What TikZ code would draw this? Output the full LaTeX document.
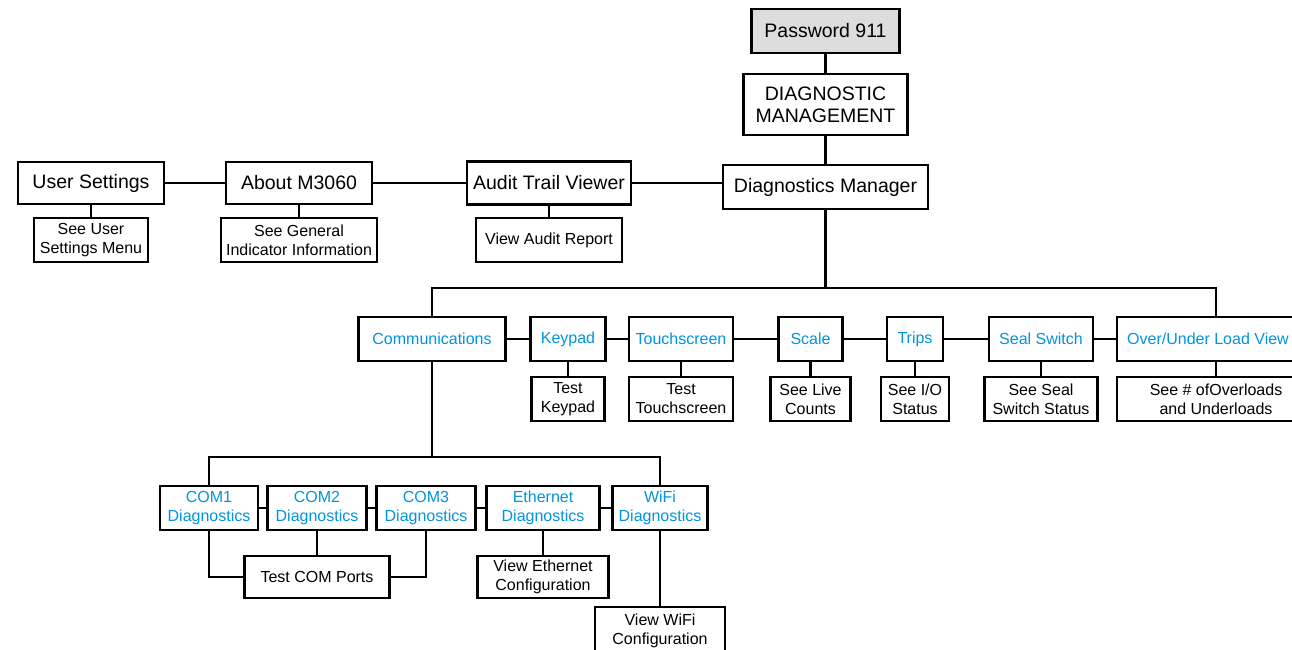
\documentclass[tikz,border=0pt]{standalone}
\usepackage{fontspec}
\setmainfont{Liberation Sans}
\definecolor{linkblue}{RGB}{0,148,222}
\definecolor{pwgray}{RGB}{221,221,221}
\begin{document}
\begin{tikzpicture}[x=1pt,y=-1pt,
  box/.style={draw, line width=2.4pt, inner sep=0pt, align=center, minimum height=44pt},
  big/.style={box, font=\fontsize{19.5}{22}\selectfont},
  med/.style={box, font=\fontsize{16}{19}\selectfont},
  blu/.style={med, text=linkblue},
  wire/.style={line width=2.4pt}]
\useasboundingbox (0,0) rectangle (1292,650);
% top
\node[big, fill=pwgray, minimum width=148pt] (pw) at (825.5,31) {Password 911};
\node[big, minimum width=164pt, minimum height=61pt] (dm) at (825.5,104.5) {DIAGNOSTIC\\MANAGEMENT};
\node[big, minimum width=205pt] (mgr) at (825.5,187) {Diagnostics Manager};
\node[big, minimum width=146pt, minimum height=42pt] (us) at (91,183) {User Settings};
\node[med, minimum width=114pt] (usm) at (91,240) {See User\\Settings Menu};
\node[big, minimum width=146pt, minimum height=42pt] (about) at (299,183) {About M3060};
\node[med, minimum width=156pt] (gen) at (299,240) {See General\\Indicator Information};
\node[big, minimum width=164pt, minimum height=43pt] (audit) at (549,183) {Audit Trail Viewer};
\node[med, minimum width=146pt] (audr) at (549,240) {View Audit Report};
% row 2
\node[blu, minimum width=147pt] (comm) at (432,339) {Communications};
\node[blu, minimum width=75pt] (key) at (568,339) {Keypad};
\node[blu, minimum width=104pt] (touch) at (681,339) {Touchscreen};
\node[blu, minimum width=64pt] (scale) at (810.5,339) {Scale};
\node[blu, minimum width=56pt] (trips) at (915,339) {Trips};
\node[blu, minimum width=104pt] (seal) at (1041,339) {Seal Switch};
\node[blu, minimum width=182pt] (over) at (1208,339) {Over/Under Load View};
\node[med, minimum width=73pt] (tkey) at (568,399) {Test\\Keypad};
\node[med, minimum width=104pt] (ttouch) at (681,399) {Test\\Touchscreen};
\node[med, minimum width=80pt] (live) at (810.5,399) {See Live\\Counts};
\node[med, minimum width=68pt] (io) at (915,399) {See I/O\\Status};
\node[med, minimum width=113pt] (sealst) at (1041,399) {See Seal\\Switch Status};
\node[med, minimum width=198pt] (overs) at (1216,399) {See \# ofOverloads\\and Underloads};
% row 3
\node[blu, minimum width=98pt] (c1) at (209,508) {COM1\\Diagnostics};
\node[blu, minimum width=99pt] (c2) at (317,508) {COM2\\Diagnostics};
\node[blu, minimum width=99pt] (c3) at (426,508) {COM3\\Diagnostics};
\node[blu, minimum width=113pt] (eth) at (543,508) {Ethernet\\Diagnostics};
\node[blu, minimum width=95pt] (wifi) at (660,508) {WiFi\\Diagnostics};
\node[med, minimum width=145pt, minimum height=42pt] (tcom) at (317,577) {Test COM Ports};
\node[med, minimum width=131pt, minimum height=42pt] (veth) at (543,577) {View Ethernet\\Configuration};
\node[med, minimum width=130pt, minimum height=48pt] (vwifi) at (660,631) {View WiFi\\Configuration};
% connectors top
\draw[wire] (pw.south) -- (dm.north);
\draw[wire] (dm.south) -- (mgr.north);
\draw[wire] (us.east) -- (about.west);
\draw[wire] (about.east) -- (audit.west);
\draw[wire] (audit.east) -- (audit.east -| mgr.west);
\draw[wire] (us.south) -- (usm.north);
\draw[wire] (about.south) -- (gen.north);
\draw[wire] (audit.south) -- (audr.north);
% bus 2
\coordinate (b2) at (825.5,288);
\coordinate (ot) at (1216,317);
\draw[wire] (mgr.south) -- (b2);
\draw[wire] (comm.north) |- (b2) -| (ot);
\draw[wire] (comm.east) -- (key.west);
\draw[wire] (key.east) -- (touch.west);
\draw[wire] (touch.east) -- (scale.west);
\draw[wire] (scale.east) -- (trips.west);
\draw[wire] (trips.east) -- (seal.west);
\draw[wire] (seal.east) -- (over.west);
\draw[wire] (key.south) -- (tkey.north);
\draw[wire] (touch.south) -- (ttouch.north);
\draw[wire] (scale.south) -- (live.north);
\draw[wire] (trips.south) -- (io.north);
\draw[wire] (seal.south) -- (sealst.north);
\draw[wire] (overs.north) -- (overs.north |- over.south);
% bus 3
\coordinate (b3) at (432,457);
\draw[wire] (comm.south) -- (b3);
\draw[wire] (c1.north) |- (b3) -| (wifi.north);
\draw[wire] (c1.east) -- (c2.west);
\draw[wire] (c2.east) -- (c3.west);
\draw[wire] (c3.east) -- (eth.west);
\draw[wire] (eth.east) -- (wifi.west);
\draw[wire] (c1.south) |- (tcom.west);
\draw[wire] (c2.south) -- (tcom.north);
\draw[wire] (c3.south) |- (tcom.east);
\draw[wire] (eth.south) -- (veth.north);
\draw[wire] (wifi.south) -- (vwifi.north);
\end{tikzpicture}
\end{document}
